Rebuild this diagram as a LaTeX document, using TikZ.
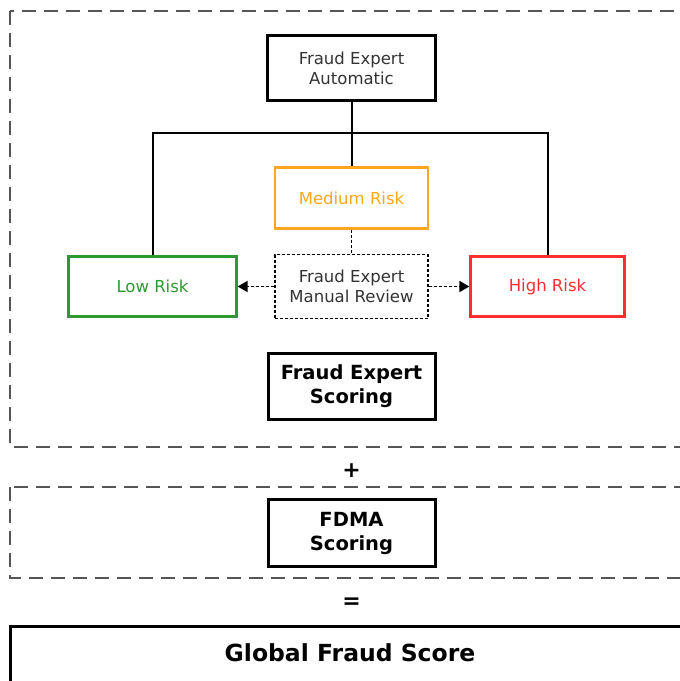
\documentclass[tikz,border=0pt]{standalone}
\usepackage{fontspec}
\setmainfont{DejaVu Sans}
\usetikzlibrary{arrows.meta}
\definecolor{lowc}{HTML}{2E9A2E}
\definecolor{medc}{HTML}{FFA620}
\definecolor{highc}{HTML}{FF2E2E}
\definecolor{dashc}{HTML}{555555}
\definecolor{txtc}{HTML}{333333}
\begin{document}
\begin{tikzpicture}[x=1pt,y=-1pt,
  box/.style={draw, line width=2.2pt, align=center, inner sep=0pt, text=txtc,
    font=\fontsize{16.5}{20}\selectfont},
  boldbox/.style={draw, line width=3pt, align=center, inner sep=0pt,
    minimum width=167pt, font=\fontsize{19.5}{24}\selectfont\bfseries},
  group/.style={draw=dashc, line width=2pt, dash pattern=on 14pt off 8pt},
  dotline/.style={line width=1.8pt, dash pattern=on 3pt off 2pt},
  op/.style={font=\fontsize{22}{22}\selectfont\bfseries, inner sep=0pt}
]
\useasboundingbox (0,0) rectangle (680,681);
\clip (0,0) rectangle (680,681);
\fill[white] (0,0) rectangle (680,681);

% groups
\draw[group] (10,11) rectangle (720,447);
\draw[group] (10,487) rectangle (720,578);
\draw[line width=3pt] (10,626) rectangle (720,720);

% nodes
\node[box, minimum width=168pt, minimum height=65pt] (auto) at (351.5,68) {Fraud Expert\\Automatic};
\node[box, draw=medc, text=medc, minimum width=153pt, minimum height=61pt] (med) at (351.5,198) {Medium Risk};
\node[box, draw=lowc, text=lowc, minimum width=168pt, minimum height=60pt] (low) at (152.5,286.5) {Low Risk};
\node[box, dotline, minimum width=153pt, minimum height=64pt] (man) at (351.5,286.5) {Fraud Expert\\Manual Review};
\node[box, draw=highc, text=highc, minimum width=154pt, minimum height=60pt] (high) at (547.5,286.5) {High Risk};
\node[boldbox, minimum height=66pt] (fes) at (351.5,386.5) {Fraud Expert\\Scoring};
\node[op] (plus) at (351.5,471) {+};
\node[op] (eq) at (351.5,603) {=};
\node[boldbox, minimum height=67pt] (fdma) at (351.5,533) {FDMA\\Scoring};
\node[font=\fontsize{23.5}{26}\selectfont\bfseries] (glob) at (350,653) {Global Fraud Score};

% connectors
\coordinate (jn) at (351.5,133);
\draw[line width=2pt] (auto.south) -- (med.north);
\draw[line width=2pt] (low.north) -- (low.north |- jn) -- (high.north |- jn) -- (high.north);
\draw[dotline] (med.south) -- (man.north);
\draw[dotline, -{Triangle[length=10pt,width=11pt]}] (man.west) -- (low.east);
\draw[dotline, -{Triangle[length=10pt,width=11pt]}] (man.east) -- (high.west);
\end{tikzpicture}
\end{document}
